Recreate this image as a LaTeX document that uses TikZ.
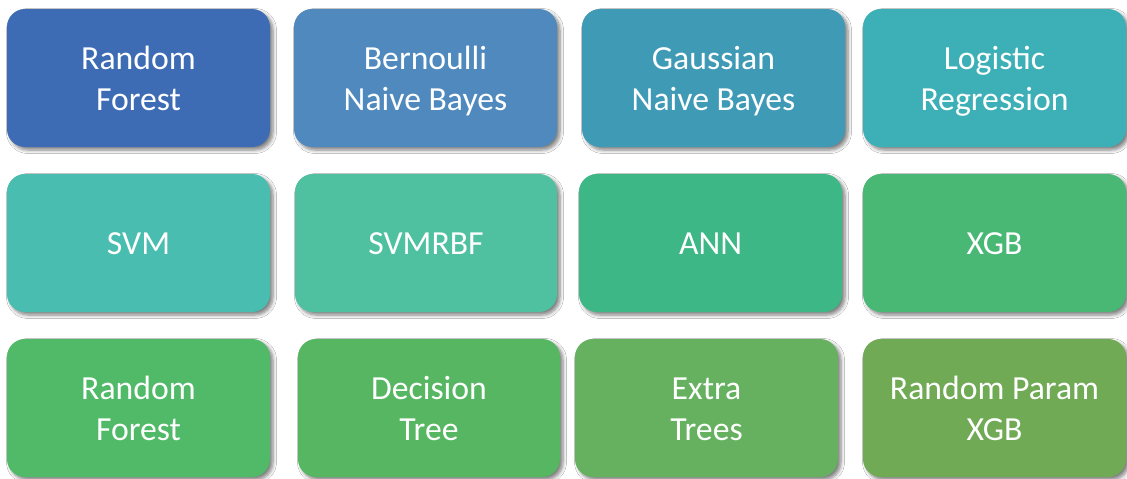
\documentclass[tikz,border=0pt]{standalone}
\usepackage{fontspec}
\setmainfont{Carlito}
\usetikzlibrary{shadows.blur}

\definecolor{c1}{HTML}{3D6CB5}
\definecolor{c2}{HTML}{4F89BD}
\definecolor{c3}{HTML}{3F9AB6}
\definecolor{c4}{HTML}{3DB0B7}
\definecolor{c5}{HTML}{48BDB0}
\definecolor{c6}{HTML}{4FC0A0}
\definecolor{c7}{HTML}{3DB785}
\definecolor{c8}{HTML}{48B874}
\definecolor{c9}{HTML}{50BA68}
\definecolor{c10}{HTML}{56B662}
\definecolor{c11}{HTML}{65B160}
\definecolor{c12}{HTML}{70AA55}

% fixed top and bottom of a label, so every label sits alike in its box
\newcommand{\topstrut}{\rule{0pt}{30pt}}
\newcommand{\botstrut}{\rule[-7pt]{0pt}{7pt}}

\tikzset{
  model/.style={rounded corners=18pt, draw=none,
    blur shadow={shadow xshift=3pt, shadow yshift=-3pt,
      shadow blur radius=3.5pt, shadow blur steps=6, shadow opacity=50}},
  label/.style={text=white, align=center, inner sep=0pt,
    font=\fontsize{33.7}{41}\selectfont}
}

% box: fill colour, left, top, right, bottom, name, text
\newcommand{\modelbox}[7]{%
  \path[model, fill=#1] (#2,#3) rectangle (#4,#5);
  \node[label] (#6) at ({(#2+#4)/2},{(#3+#5)/2}) {\topstrut#7\botstrut};
}

\begin{document}
\begin{tikzpicture}[x=1pt,y=-1pt]
  \useasboundingbox[fill=white] (0,0) rectangle (1127,479);

  % first row
  \modelbox{c1}{7}{9}{270}{147}{rf1}{Random\\Forest}
  \modelbox{c2}{294}{9}{557}{147}{bnb}{Bernoulli\\Naive Bayes}
  \modelbox{c3}{582}{9}{845}{147}{gnb}{Gaussian\\Naive Bayes}
  \modelbox{c4}{863}{9}{1126}{147}{lr}{Logistic\\Regression}

  % second row
  \modelbox{c5}{7}{174}{270}{312}{svm}{SVM}
  \modelbox{c6}{295}{174}{557}{312}{svmrbf}{SVMRBF}
  \modelbox{c7}{579}{174}{842}{312}{ann}{ANN}
  \modelbox{c8}{863}{174}{1126}{312}{xgb}{XGB}

  % third row
  \modelbox{c9}{7}{339}{270}{477}{rf2}{Random\\Forest}
  \modelbox{c10}{298}{339}{560}{477}{dt}{Decision\\Tree}
  \modelbox{c11}{575}{339}{838}{477}{et}{Extra\\Trees}
  \modelbox{c12}{863}{339}{1126}{477}{rpx}{Random Param\\XGB}
\end{tikzpicture}
\end{document}
